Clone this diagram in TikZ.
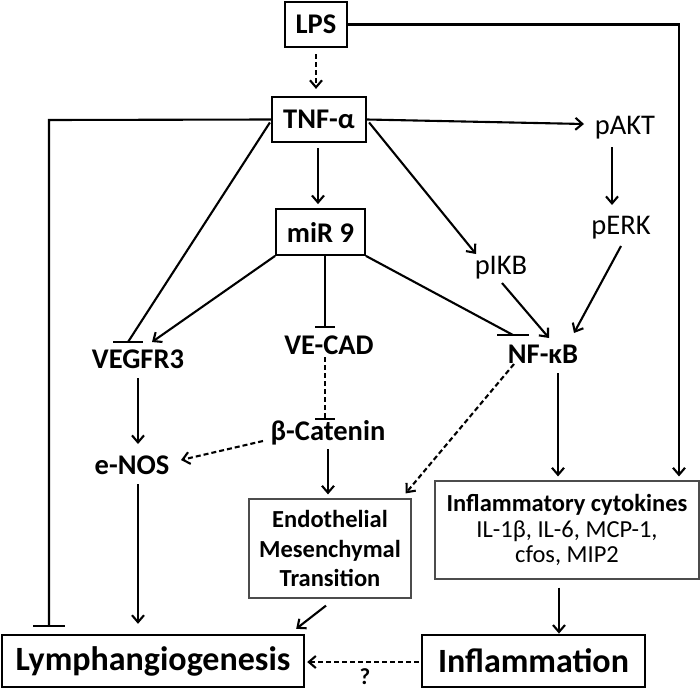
\documentclass[tikz,border=0pt]{standalone}
\usepackage{fontspec}
\setmainfont{Carlito}
\usetikzlibrary{arrows.meta,calc}
\begin{document}
\begin{tikzpicture}[x=1pt,y=-1pt,
  lw/.style={line width=2.1pt},
  tip/.style={-{Straight Barb[length=7pt,width=12pt,line width=2.1pt]}},
  conn/.style={lw,tip},
  dconn/.style={lw,tip,dash pattern=on 5pt off 3pt},
  plain/.style={lw},
  dplain/.style={lw,dash pattern=on 5pt off 3pt},
  boldbox/.style={draw,line width=2.2pt,inner sep=0pt,font=\fontsize{28.5}{32}\selectfont\bfseries},
  lbl/.style={inner sep=0pt,font=\fontsize{28.5}{32}\selectfont\bfseries},
  rlbl/.style={inner sep=0pt,font=\fontsize{28.5}{32}\selectfont},
  thinbox/.style={draw=black!70,line width=1.2pt,inner sep=0pt,align=center},
  bigbox/.style={draw,line width=2.4pt,inner sep=0pt,font=\fontsize{34}{38}\selectfont\bfseries},
]
\useasboundingbox (0,0) rectangle (700,693);

% nodes
\node[boldbox,minimum width=62pt,minimum height=45pt] (lps) at (316,24.5) {LPS};
\node[boldbox,minimum width=94pt,minimum height=45pt] (tnf) at (319,119.5) {TNF-α};
\node[boldbox,line width=1.8pt,minimum width=89pt,minimum height=46pt] (mir) at (320.5,232) {miR 9};
\node[rlbl] (pakt) at (625,128) {pAKT};
\node[rlbl] (perk) at (621,228) {pERK};
\node[rlbl] (pikb) at (501,268) {pIKB};
\node[lbl] (vegfr) at (138,359) {VEGFR3};
\node[lbl] (vecad) at (329,345) {VE-CAD};
\node[lbl] (nfkb) at (543,354) {NF-κB};
\node[lbl] (bcat) at (328,433) {β-Catenin};
\node[lbl] (enos) at (132,465) {e-NOS};
\node[thinbox,minimum width=162pt,minimum height=99pt,font=\fontsize{24.5}{29.5}\selectfont\bfseries] (emt) at (330,548.5) {Endothelial\\Mesenchymal\\Transition};
\node[thinbox,minimum width=264pt,minimum height=98pt,font=\fontsize{24.5}{25.5}\selectfont] (cyt) at (567,530) {\textbf{Inflammatory cytokines}\\IL-1β, IL-6, MCP-1,\\cfos, MIP2};
\node[bigbox,minimum width=302pt,minimum height=52pt] (lymph) at (153,661) {Lymphangiogenesis};
\node[bigbox,minimum width=223pt,minimum height=52pt] (infl) at (533.5,661) {Inflammation};
\node[inner sep=0pt,font=\fontsize{23}{25}\selectfont\bfseries] (q) at (365,677) {?};

% helper coordinates
\coordinate (rc) at (679,24.5);
\coordinate (lc) at (49,120);
\coordinate (lbar) at (49,626);
\coordinate (vcx) at ($(vecad)+(-4,0)$);
\coordinate (nfb) at ($(nfkb)+(15,19)$);
\coordinate (enb) at ($(enos)+(6,19)$);
\coordinate (tnb) at ($(tnf.south)+(-1,5)$);

% connectors
\draw[dconn] ($(lps.south)+(0,6)$) -- ($(lps.south |- tnf.north)+(0,-7)$);
\draw[conn] (lps.east) -- (rc) -- ($(rc |- cyt.north)+(0,-4)$);
\draw[plain] (tnf.west) -- (lc) -- (lbar);
\draw[plain] ($(lbar)+(-16,0)$) -- ($(lbar)+(16,0)$);
\draw[conn] (tnf.east) -- ($(pakt)+(-41,-4)$);
\draw[conn] (tnb) -- ($(tnb |- mir.north)+(0,-4)$);
% TNF -| VEGFR3
\draw[plain] ($(tnf.west)+(-1,3)$) -- ($(vegfr)+(-10,-17)$);
\draw[plain] ($(vegfr)+(-25,-17)$) -- ($(vegfr)+(5,-17)$);
% miR9 -> VEGFR3
\draw[conn] (mir.south west) -- ($(vegfr)+(14,-17)$);
% miR9 -| VE-CAD
\draw[plain] (vcx |- mir.south) -- ($(vecad)+(-4,-18)$);
\draw[plain] ($(vecad)+(-14,-18)$) -- ($(vecad)+(6,-18)$);
% VE-CAD ..| beta-catenin
\draw[dplain] ($(vecad)+(-4,12)$) -- ($(bcat)+(-3,-14)$);
\draw[plain] ($(bcat)+(-13,-14)$) -- ($(bcat)+(7,-14)$);
% miR9 -| NF-kB
\draw[plain] (mir.south east) -- ($(nfkb)+(-30,-19)$);
\draw[plain] ($(nfkb)+(-46,-19)$) -- ($(nfkb)+(-14,-19)$);
% TNF -> pIKB
\draw[conn] ($(tnf.east)+(2,3)$) -- ($(pikb)+(-25,-14)$);
\draw[conn] ($(pikb)+(1,15)$) -- ($(nfkb)+(6,-16)$);
\draw[conn] ($(pakt)+(-13,19)$) -- ($(perk)+(-9,-23)$);
\draw[conn] ($(perk)+(0,18)$) -- ($(nfkb)+(31,-21)$);
\draw[conn] (nfb) -- ($(nfb |- cyt.north)+(0,-4)$);
\draw[dconn] ($(nfkb)+(-29,10)$) -- ($(emt.north east)+(-6,-5)$);
\draw[conn] ($(vegfr)+(0,19)$) -- ($(enos)+(6,-21)$);
\draw[dconn] ($(bcat)+(-65,8)$) -- ($(enos)+(49,-5)$);
\draw[conn] ($(bcat)+(0,16)$) -- ($(emt.north)+(-2,-4)$);
\draw[conn] (enb) -- ($(enb |- lymph.north)+(0,-10)$);
\draw[conn] ($(emt.south)+(-4,7)$) -- ($(lymph.north east)+(-9,-5)$);
\draw[conn] ($(cyt.south)+(-8,8)$) -- ($(cyt.south)+(-8,54)$);
\draw[dconn] ($(infl.west)+(-2,1)$) -- ($(lymph.east)+(2,1)$);
\end{tikzpicture}
\end{document}
